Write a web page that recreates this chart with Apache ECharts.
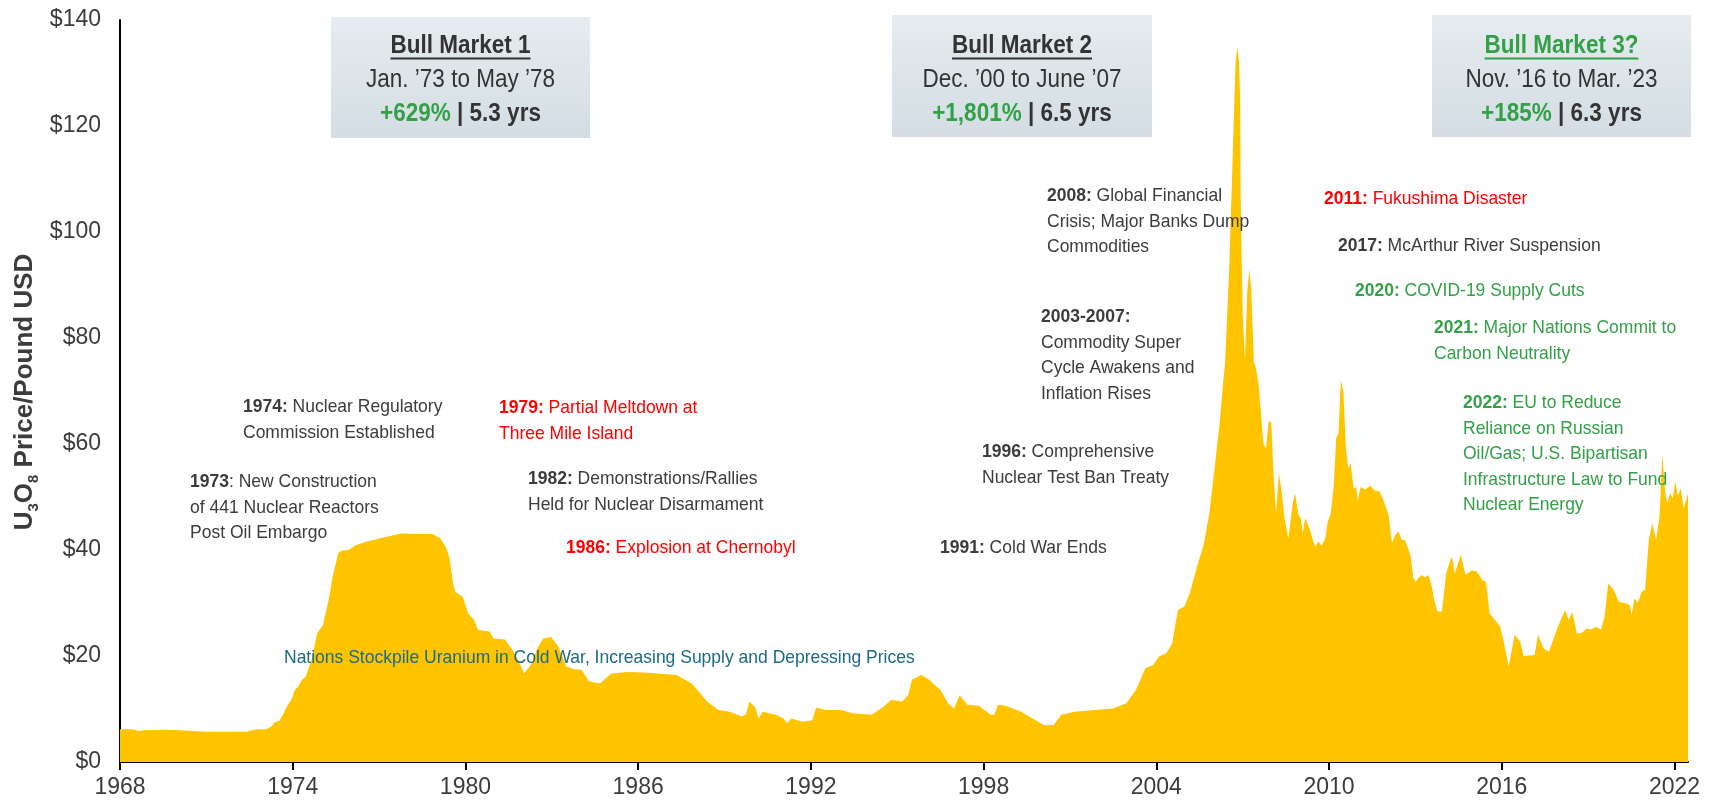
<!DOCTYPE html>
<html><head><meta charset="utf-8">
<script src="https://cdn.jsdelivr.net/npm/echarts@6/dist/echarts.min.js"></script>
<style>html,body{margin:0;padding:0;background:#fff}#chart{width:1713px;height:801px}</style>
</head><body><div id="chart"></div>
<script>
// ---------------- DATA ----------------
const years = [
1968.00,1968.30,1968.45,1968.62,1968.80,1969.50,1969.95,1970.40,1971.00,1971.60,1972.40,1972.73,1973.08,1973.26,1973.37,1973.54,1973.66,1973.83,1973.95,
1974.07,1974.19,1974.32,1974.45,1974.65,1974.85,1975.05,1975.25,1975.39,1975.58,1975.70,1975.95,1976.18,1976.58,1977.10,1977.78,1978.45,1978.85,1979.12,
1979.31,1979.44,1979.58,1979.64,1979.90,1980.10,1980.30,1980.44,1980.84,1980.97,1981.37,1981.64,1981.85,1982.04,1982.30,1982.50,1982.70,1982.97,1983.23,
1983.50,1983.77,1984.03,1984.30,1984.67,1985.07,1985.60,1986.20,1986.66,1987.33,1987.86,1988.15,1988.39,1988.79,1989.19,1989.59,1989.75,1989.86,1990.06,
1990.19,1990.32,1990.78,1991.05,1991.18,1991.32,1991.72,1992.05,1992.18,1992.52,1993.05,1993.45,1994.11,1994.51,1994.78,1995.17,1995.38,1995.51,1995.84,
1996.11,1996.50,1996.77,1996.97,1997.17,1997.44,1997.84,1998.24,1998.37,1998.50,1998.77,1999.30,1999.70,2000.10,2000.43,2000.70,2001.16,2001.83,2002.49,
2002.96,2003.29,2003.62,2003.89,2004.09,2004.35,2004.55,2004.75,2004.97,2005.16,2005.41,2005.66,2005.84,2006.03,2006.20,2006.33,2006.39,2006.54,2006.68,
2006.75,2006.82,2006.87,2006.91,2006.93,2007.00,2007.08,2007.16,2007.23,2007.30,2007.39,2007.45,2007.55,2007.72,2007.81,2007.90,2007.99,2008.07,2008.16,
2008.26,2008.36,2008.45,2008.59,2008.74,2008.82,2008.94,2009.02,2009.09,2009.17,2009.32,2009.44,2009.52,2009.63,2009.75,2009.87,2009.95,2010.06,2010.16,
2010.25,2010.33,2010.41,2010.50,2010.59,2010.67,2010.75,2010.85,2010.94,2011.00,2011.10,2011.26,2011.43,2011.60,2011.75,2011.89,2012.07,2012.18,2012.30,
2012.41,2012.53,2012.64,2012.76,2012.84,2012.93,2013.01,2013.10,2013.22,2013.34,2013.45,2013.57,2013.65,2013.77,2013.92,2014.07,2014.21,2014.27,2014.37,
2014.58,2014.74,2014.96,2015.14,2015.33,2015.45,2015.58,2015.76,2015.95,2016.08,2016.24,2016.45,2016.64,2016.76,2017.14,2017.26,2017.45,2017.64,2017.76,
2017.95,2018.20,2018.32,2018.45,2018.61,2018.76,2018.95,2019.11,2019.26,2019.45,2019.57,2019.70,2019.88,2020.07,2020.26,2020.45,2020.51,2020.61,2020.73,
2020.86,2020.98,2021.11,2021.23,2021.36,2021.48,2021.58,2021.68,2021.75,2021.85,2021.94,2022.03,2022.12,2022.22,2022.32,2022.47
];
const prices = [
6.2,6.2,6.2,5.85,6.0,6.1,6.05,5.9,5.7,5.7,5.7,6.2,6.2,6.7,7.5,7.8,8.9,10.8,11.7,
13.6,14.2,15.5,16.1,19.2,24.3,25.8,30.6,35.0,39.4,39.9,40.0,40.9,41.6,42.3,43.1,43.0,43.0,42.2,
40.6,38.7,33.5,32.1,31.2,28.0,26.8,24.9,24.6,23.3,23.1,21.1,19.0,16.7,18.6,21.5,23.3,23.6,21.8,
18.0,17.5,17.4,15.2,14.8,16.7,17.0,16.9,16.7,16.4,14.8,13.0,11.4,9.8,9.5,8.6,9.0,11.4,10.4,
8.2,9.5,8.9,8.2,7.3,8.2,7.6,7.9,10.3,9.8,9.8,9.2,8.9,10.4,11.7,11.4,12.6,15.5,16.4,
15.5,13.6,11.1,10.1,12.6,10.8,10.6,8.9,8.9,10.8,10.6,9.5,8.2,7.0,7.0,8.9,9.5,9.8,10.1,
11.1,13.6,17.7,18.3,19.9,20.5,22.4,28.7,29.3,31.8,36.8,41.3,46.9,55.7,63.9,72.1,75.3,94.2,119.2,
131.9,135.1,131.9,125.5,106.7,84.7,75.8,89.0,93.0,89.0,75.3,74.6,71.4,60.1,59.2,64.2,64.2,54.5,46.9,
54.5,50.7,46.0,42.2,48.8,50.7,46.6,46.0,43.1,46.0,44.1,41.9,40.6,41.6,40.8,42.2,45.2,46.9,51.9,
61.1,62.0,72.1,69.6,58.9,55.4,56.4,51.6,51.9,49.4,51.9,51.4,52.1,51.2,51.1,49.4,46.6,41.3,42.8,
43.5,41.9,41.9,40.1,38.7,34.7,34.0,34.7,35.3,34.8,35.3,33.1,30.6,28.4,28.4,35.6,38.1,38.7,35.6,
39.1,35.3,36.2,35.9,34.3,34.0,28.0,26.8,25.5,22.4,18.0,24.0,22.7,20.0,20.2,24.0,21.4,20.8,22.7,
25.5,28.7,26.8,28.3,24.3,24.3,25.2,25.0,25.5,25.0,27.4,33.7,32.5,30.2,30.0,29.6,27.7,30.9,30.0,
32.1,32.5,41.9,45.0,41.9,46.3,57.9,50.7,48.8,50.7,49.8,52.9,50.3,51.6,47.9,50.7
];
const xTickYears = [1968,1974,1980,1986,1992,1998,2004,2010,2016,2022];
const yTickValues = [0,20,40,60,80,100,120,140];
const yTitleParts = ['U','3','O','8',' Price/Pound USD'];

const bullTitles = ['Bull Market 1','Bull Market 2','Bull Market 3?'];
const bullPeriods = ['Jan. \u201973 to May \u201978','Dec. \u201900 to June \u201907','Nov. \u201916 to Mar. \u201923'];
const bullGains = ['+629%','+1,801%','+185%'];
const bullDurations = ['5.3 yrs','6.5 yrs','6.3 yrs'];

// event notes: bold lead, first-line rest and further lines, tone
const eventLeads = ['1973','1974:','1979:','1982:','1986:','','1991:','1996:','2003-2007:','2008:','2011:','2017:','2020:','2021:','2022:'];
const eventLines = [
  [': New Construction','of 441 Nuclear Reactors','Post Oil Embargo'],
  [' Nuclear Regulatory','Commission Established'],
  [' Partial Meltdown at','Three Mile Island'],
  [' Demonstrations/Rallies','Held for Nuclear Disarmament'],
  [' Explosion at Chernobyl'],
  ['Nations Stockpile Uranium in Cold War, Increasing Supply and Depressing Prices'],
  [' Cold War Ends'],
  [' Comprehensive','Nuclear Test Ban Treaty'],
  ['','Commodity Super','Cycle Awakens and','Inflation Rises'],
  [' Global Financial','Crisis; Major Banks Dump','Commodities'],
  [' Fukushima Disaster'],
  [' McArthur River Suspension'],
  [' COVID-19 Supply Cuts'],
  [' Major Nations Commit to','Carbon Neutrality'],
  [' EU to Reduce','Reliance on Russian','Oil/Gas; U.S. Bipartisan','Infrastructure Law to Fund','Nuclear Energy']
];
const eventTones = ['dark','dark','red','dark','red','teal','dark','dark','dark','dark','red','dark','green','green','green'];

// ---------------- LAYOUT / STYLE ----------------
const FONT = '"Liberation Sans", Arial, Helvetica, sans-serif';
const TONES = {dark:'#3c3c3c', red:'#ff0000', green:'#33a047', teal:'#1b6a86'};
const GREEN = '#33a047';
const eventPos = [[190,482],[243,407],[499,408],[528,479],[566,548],[284,658],[940,548],[982,452],[1041,317],[1047,196],[1324,199],[1338,246],[1355,291],[1434,328],[1463,403]];
const EV_LH = 25.5, EV_FS = 18.5, EV_SX = 0.946;
const boxRects = [[331,17,259,121],[892,15,260,122],[1432,15,259,122]];

const chart = echarts.init(document.getElementById('chart'), null, {renderer:'canvas'});

function measure(txt, font){
  const c = document.createElement('canvas').getContext('2d');
  c.font = font; return c.measureText(txt).width;
}

const graphics = [];
// Bull market boxes
const BOX_FS = 25, BOX_SX = 0.9;
boxRects.forEach((r, i) => {
  const cx = r[0] + r[2]/2;
  graphics.push({type:'rect', shape:{x:r[0], y:r[1], width:r[2], height:r[3]}, z:10,
    style:{fill:{type:'linear',x:0,y:0,x2:0,y2:1,colorStops:[{offset:0,color:'#e6ecef'},{offset:1,color:'#d3dde3'}]}}});
  const titleColor = i === 2 ? GREEN : '#333333';
  graphics.push({type:'text', x:cx, y:46, scaleX:BOX_SX, z:11,
    style:{text:bullTitles[i], fill:titleColor, fontFamily:FONT, fontSize:BOX_FS, fontWeight:'bold', align:'center', verticalAlign:'middle'}});
  const w = measure(bullTitles[i], 'bold ' + BOX_FS + 'px ' + FONT) * BOX_SX;
  graphics.push({type:'line', z:11, shape:{x1:cx - w/2, y1:58.5, x2:cx + w/2, y2:58.5}, style:{stroke:titleColor, lineWidth:2}});
  graphics.push({type:'text', x:cx, y:80, scaleX:BOX_SX, z:11,
    style:{text:bullPeriods[i], fill:'#333333', fontFamily:FONT, fontSize:BOX_FS, align:'center', verticalAlign:'middle'}});
  graphics.push({type:'text', x:cx, y:114, scaleX:BOX_SX, z:11,
    style:{text:'{g|' + bullGains[i] + '}{k| | ' + bullDurations[i] + '}', align:'center', verticalAlign:'middle',
      rich:{g:{fill:GREEN, fontFamily:FONT, fontSize:BOX_FS, fontWeight:'bold'}, k:{fill:'#333333', fontFamily:FONT, fontSize:BOX_FS, fontWeight:'bold'}}}});
});

// Event notes
eventLeads.forEach((lead, i) => {
  const lines = eventLines[i].slice();
  const first = (lead ? '{b|' + lead + '}' : '') + lines[0];
  const txt = [first].concat(lines.slice(1)).join('\n');
  const col = TONES[eventTones[i]];
  graphics.push({type:'text', x:eventPos[i][0], y:eventPos[i][1] - EV_LH/2, scaleX:EV_SX, z:20,
    style:{text:txt, fill:col, fontFamily:FONT, fontSize:EV_FS, lineHeight:EV_LH, align:'left', verticalAlign:'top',
      rich:{b:{fill:col, fontFamily:FONT, fontSize:EV_FS, fontWeight:'bold', lineHeight:EV_LH}}}});
});

// Y axis title
graphics.push({type:'text', x:25, y:392, rotation:Math.PI/2, z:20,
  style:{text:'{m|' + yTitleParts[0] + '}{s|' + yTitleParts[1] + '}{m|' + yTitleParts[2] + '}{s|' + yTitleParts[3] + '}{m|' + yTitleParts[4] + '}',
    align:'center', verticalAlign:'middle',
    rich:{m:{fill:'#3c3c3c', fontFamily:FONT, fontSize:26, fontWeight:'bold', lineHeight:32},
          s:{fill:'#3c3c3c', fontFamily:FONT, fontSize:15, fontWeight:'bold', lineHeight:15, verticalAlign:'bottom'}}}});

chart.setOption({
  animation:false,
  backgroundColor:'#ffffff',
  grid:{left:120, right:25, top:20, bottom:39, containLabel:false},
  xAxis:{type:'value', min:1968, max:2022.47, interval:6,
    axisLine:{show:true, lineStyle:{color:'#000', width:2}},
    axisTick:{show:true, length:8, inside:false, customValues:xTickYears, lineStyle:{color:'#000', width:2}},
    axisLabel:{show:true, customValues:xTickYears, color:'#3c3c3c', fontFamily:FONT, fontSize:23, margin:14,
      formatter:v => (Math.abs(v - Math.round(v)) < 1e-6 ? String(Math.round(v)) : '')},
    splitLine:{show:false}},
  yAxis:{type:'value', min:0, max:140, interval:20,
    axisLine:{show:true, lineStyle:{color:'#000', width:2}},
    axisTick:{show:false},
    axisLabel:{show:true, customValues:yTickValues, color:'#3c3c3c', fontFamily:FONT, fontSize:23, margin:19, formatter:v => '$' + v},
    splitLine:{show:false}},
  series:[{type:'line', data:years.map((y,i) => [y, prices[i]]), symbol:'none', smooth:false,
    lineStyle:{width:0, color:'#FFC400'}, areaStyle:{color:'#FFC400', opacity:1}, z:2}],
  graphic:graphics
});
</script></body></html>
